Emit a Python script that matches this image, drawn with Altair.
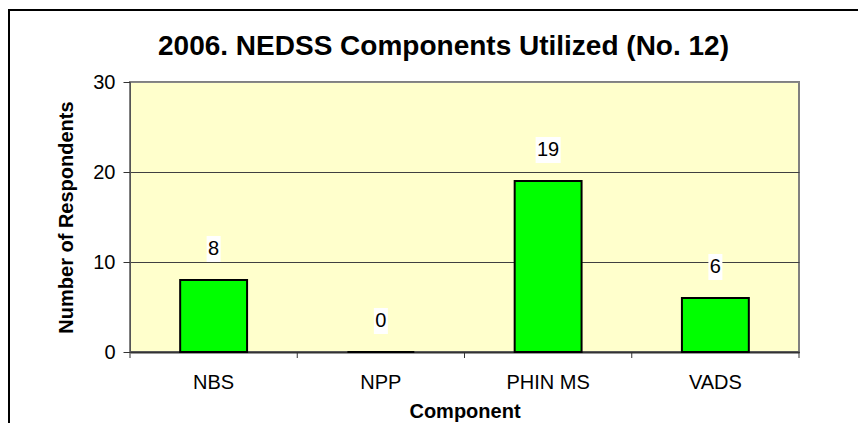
import altair as alt
import pandas as pd

categories = ["NBS", "NPP", "PHIN MS", "VADS"]
respondents = [8, 0, 19, 6]
y_ticks = [0, 10, 20, 30]
boundaries = [0, 1, 2, 3, 4]

df = pd.DataFrame({"Component": categories, "Respondents": respondents})
df["digits"] = df["Respondents"].astype(str).str.len()
bdf = pd.DataFrame({"b": boundaries})
one = pd.DataFrame({"a": [0]})

FONT = "Liberation Sans"
W, H = 669, 270

x = alt.X(
    "Component:N", sort=categories,
    scale=alt.Scale(paddingInner=0.6, paddingOuter=0.3),
    axis=alt.Axis(title="Component", ticks=False, domain=True, domainColor="#333333",
                  domainWidth=2, labelAngle=0, labelPadding=20, labelFontSize=20,
                  labelFont=FONT, labelColor="black", titleFont=FONT, titleFontSize=20,
                  titleFontWeight="bold", titleColor="black", titlePadding=9, grid=False),
)
xs = alt.X("Component:N", sort=categories)
y = alt.Y(
    "Respondents:Q", scale=alt.Scale(domain=[0, 30], nice=False),
    axis=alt.Axis(values=y_ticks, title="Number of Respondents", tickSize=7,
                  tickColor="#333333", domainColor="#555555", labelPadding=8,
                  labelFontSize=20, labelFont=FONT, labelColor="black",
                  titleFont=FONT, titleFontSize=20, titleFontWeight="bold",
                  titleColor="black", titlePadding=16, grid=True,
                  gridColor={"condition": {"test": "datum.value >= 30", "value": "#888888"},
                             "value": "#404040"}),
)

bars = alt.Chart(df).mark_bar(color="#00FF00", stroke="black", strokeWidth=2).encode(x=x, y=y)

box1 = alt.Chart(df).transform_filter("datum.digits == 1").mark_rect(
    color="white", width=14, yOffset=-44, y2Offset=-18
).encode(x=xs, y="Respondents:Q", y2="Respondents:Q")
box2 = alt.Chart(df).transform_filter("datum.digits == 2").mark_rect(
    color="white", width=25, yOffset=-44, y2Offset=-18
).encode(x=xs, y="Respondents:Q", y2="Respondents:Q")

labels = alt.Chart(df).mark_text(
    font=FONT, fontSize=20, color="black", baseline="middle", dy=-31
).encode(x=xs, y="Respondents:Q", text="Respondents:Q")

main = alt.layer(bars, box1, box2, labels)

ticks = alt.Chart(bdf).mark_rule(color="#333333", strokeWidth=1).encode(
    x=alt.X("b:Q", scale=alt.Scale(domain=[0, 4], nice=False, zero=False), axis=None),
    y=alt.value(H), y2=alt.value(H + 6),
)

frame_left = alt.Chart(one).mark_rule(color="black", strokeWidth=2).encode(
    x=alt.value(-121), y=alt.value(-72), y2=alt.value(H + 120)
)
frame_top = alt.Chart(one).mark_rule(color="black", strokeWidth=2).encode(
    x=alt.value(-122), x2=alt.value(W + 120), y=alt.value(-72)
)

chart = alt.layer(main, ticks, frame_left, frame_top).resolve_scale(
    x="independent"
).properties(
    width=W, height=H,
    title=alt.TitleParams("2006. NEDSS Components Utilized (No. 12)", font=FONT,
                          fontSize=28, fontWeight="bold", color="black",
                          anchor="middle", frame="group", baseline="alphabetic",
                          dx=-21, dy=74, offset=0),
    padding={"left": 122, "top": 74, "right": 59, "bottom": 71},
    autosize=alt.AutoSizeParams(type="none"),
    background="white",
).configure_view(stroke="#808080", strokeWidth=2, fill="#FFFFCC")

chart.save("out.html", embed_options={"renderer": "svg", "actions": False})
